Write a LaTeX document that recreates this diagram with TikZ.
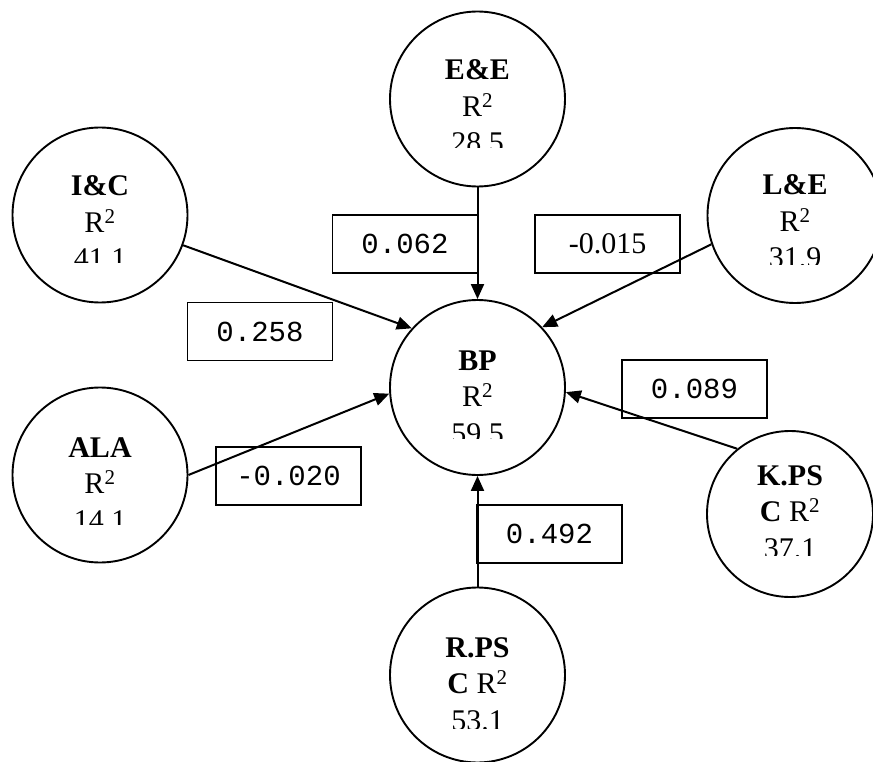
\documentclass[tikz,border=0pt]{standalone}
\usepackage{fontspec}
\setmainfont{Liberation Serif}
\setmonofont{Liberation Mono}
\usetikzlibrary{arrows.meta}

% construct circle with three text lines; the last line is cut off at a given height
% #1 name, #2/#3 centre, #4 first baseline, #5 clip line, #6-#8 lines of text
\newcommand\latentvar[8]{%
  \node[latent] (#1) at (#2,#3) {};
  \begin{scope}
    \clip (#2-95,#3-95) rectangle (#2+95,#5);
    \node[vtxt] (#1-l1) at (#2,#4) {#6};
    \node[vtxt] (#1-l2) at (#2,#4+36.5) {#7};
    \node[vtxt] (#1-l3) at (#2,#4+73) {#8};
  \end{scope}}

\begin{document}
\begin{tikzpicture}[x=1pt,y=-1pt,
  latent/.style={circle, draw, line width=1.9pt, minimum size=175pt, inner sep=0pt},
  vtxt/.style={anchor=base, inner sep=0pt, font=\fontsize{30}{36}\selectfont},
  coef/.style={draw, line width=1.9pt, minimum width=145pt, minimum height=58pt,
    inner sep=0pt, font=\fontsize{29}{34}\selectfont\ttfamily},
  coefrm/.style={coef, font=\fontsize{30}{36}\selectfont\rmfamily},
  effect/.style={line width=2pt, -{Triangle[length=15pt,width=13pt]}},
]
\useasboundingbox (0,0) rectangle (873,762);

% constructs
\latentvar{ee}{477.5}{99}{80}{148}{\textbf{E\&E}}{R\textsuperscript{2}}{28.5}
\latentvar{ic}{100}{215}{196}{263}{\textbf{I\&C}}{R\textsuperscript{2}}{41.1}
\latentvar{le}{795}{215.5}{195}{265}{\textbf{L\&E}}{R\textsuperscript{2}}{31.9}
\latentvar{ala}{100}{475}{457}{524}{\textbf{ALA}}{R\textsuperscript{2}}{14.1}
\latentvar{bp}{477.5}{387.5}{370}{438}{\textbf{BP}}{R\textsuperscript{2}}{59.5}
\latentvar{rps}{477.5}{675}{657}{728}{\textbf{R.PS}}{\textbf{C} R\textsuperscript{2}}{53.1}
\begin{scope}[latent/.append style={minimum size=166pt}]
  \latentvar{kps}{790}{514}{485}{555}{\textbf{K.PS}}{\textbf{C} R\textsuperscript{2}}{37.1}
\end{scope}

% path coefficients
\node[coef] (c062) at (405,244) {0.062};
\node[coefrm] (c015) at (607.5,244) {-0.015};
\node[coef] (c258) at (260,331.5) {0.258};
\node[coef] (c089) at (694.5,389) {0.089};
\node[coef] (c020) at (288.5,476) {-0.020};
\node[coef] (c492) at (549.5,534) {0.492};

% structural paths
\draw[effect] (ee.south) -- (bp.north);
\draw[effect] (ic.-20) -- (bp.138);
\draw[effect] (le.199) -- (bp.43.5);
\draw[effect] (ala.0) -- (bp.184);
\draw[effect] (kps.129) -- (bp.-3.5);
\draw[effect] (rps.north) -- (bp.south);
\end{tikzpicture}
\end{document}
